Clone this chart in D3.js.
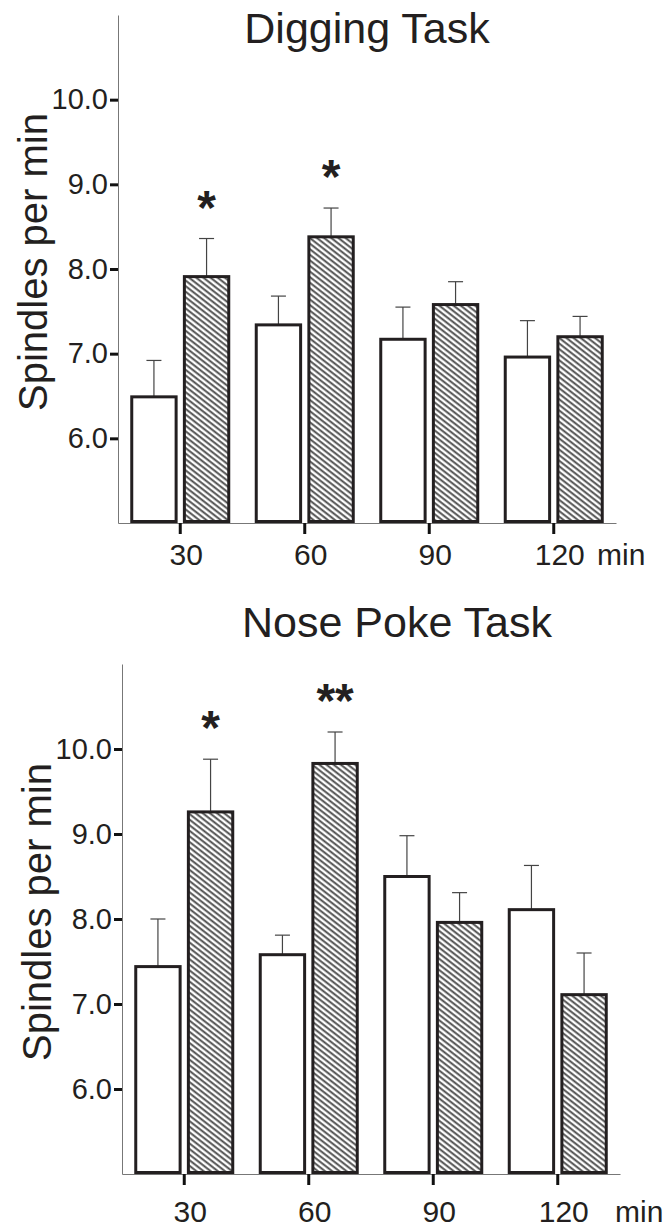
<!DOCTYPE html>
<html>
<head>
<meta charset="utf-8">
<script src="https://cdn.jsdelivr.net/npm/d3@7"></script>
<style>
body { margin: 0; background: #fff; }
text { font-family: "Liberation Sans", Arial, sans-serif; fill: #231f20; }
</style>
</head>
<body>
<script>
var times = ["30", "60", "90", "120"]
var yTicks = [6, 7, 8, 9, 10]

// digging task
var digControl = [6.49, 7.34, 7.17, 6.96]
var digControlErr = [0.43, 0.34, 0.38, 0.43]
var digTask = [7.91, 8.38, 7.58, 7.20]
var digTaskErr = [0.45, 0.34, 0.27, 0.24]
var digStars = ["*", "*", "", ""]

// nose poke task
var noseControl = [7.44, 7.58, 8.50, 8.11]
var noseControlErr = [0.56, 0.23, 0.48, 0.52]
var noseTask = [9.26, 9.83, 7.96, 7.11]
var noseTaskErr = [0.62, 0.37, 0.35, 0.49]
var noseStars = ["*", "**", "", ""]

var svg = d3.select("body").append("svg")
	.attr("width", 671)
	.attr("height", 1227)

var pat = svg.append("defs").append("pattern")
	.attr("id", "hatch")
	.attr("patternUnits", "userSpaceOnUse")
	.attr("width", 8)
	.attr("height", 4.4)
	.attr("patternTransform", "rotate(38)")
pat.append("rect").attr("width", 8).attr("height", 4.4).attr("fill", "#fff")
pat.append("line")
	.attr("x1", 0).attr("x2", 8)
	.attr("y1", 1.2).attr("y2", 1.2)
	.attr("stroke", "#4a4a4a")
	.attr("stroke-width", 1.9)

function drawPanel(p) {
	var g = svg.append("g")

	var x = d3.scaleBand().domain(times).range([p.left, p.right])
	var sub = d3.scaleBand().domain(["control", "task"]).range([-50, 50]).paddingInner(0.1)
	var y = d3.scaleLinear().domain([5, 11]).range([p.bottom, p.top])

	var rows = []
	times.forEach(function(t, i) {
		rows.push({t: t, grp: "control", v: p.control[i], e: p.controlErr[i], star: ""})
		rows.push({t: t, grp: "task", v: p.task[i], e: p.taskErr[i], star: p.stars[i]})
	})

	// y axis
	var ya = g.append("g")
		.attr("transform", "translate(" + p.left + ",0)")
		.call(d3.axisLeft(y).tickValues(yTicks).tickFormat(d3.format(".1f")).tickSize(8).tickSizeOuter(0).tickPadding(2))
	ya.select(".domain").attr("stroke", "#777").attr("stroke-width", 1)
	ya.selectAll(".tick line").attr("stroke", "#111").attr("stroke-width", 3)
	ya.selectAll(".tick text").attr("font-size", 29).attr("font-family", null).attr("fill", null)

	// x axis
	var xa = g.append("g")
		.attr("transform", "translate(0," + p.bottom + ")")
		.call(d3.axisBottom(x).tickSize(11).tickSizeOuter(0).tickPadding(p.labelPad))
	xa.select(".domain").attr("stroke", "#777").attr("stroke-width", 1)
	xa.selectAll(".tick line").attr("stroke", "#111").attr("stroke-width", 3)
	xa.selectAll(".tick text").attr("font-size", 30).attr("font-family", null).attr("fill", null).attr("dx", 6)

	g.append("text")
		.attr("x", p.minX)
		.attr("y", p.bottom + 11 + p.labelPad)
		.attr("dy", "0.71em")
		.attr("font-size", 30)
		.text("min")

	// error bars
	var eb = g.selectAll(".err").data(rows).enter().append("g")
		.attr("class", "err")
		.attr("transform", function(d) {return "translate(" + (x(d.t) + x.bandwidth() / 2 + sub(d.grp) + sub.bandwidth() / 2) + ",0)"})
	eb.append("line")
		.attr("y1", function(d) {return y(d.v)})
		.attr("y2", function(d) {return y(d.v + d.e)})
		.attr("stroke", "#444")
		.attr("stroke-width", 1.2)
	eb.append("line")
		.attr("x1", -7.5).attr("x2", 7.5)
		.attr("y1", function(d) {return y(d.v + d.e)})
		.attr("y2", function(d) {return y(d.v + d.e)})
		.attr("stroke", "#444")
		.attr("stroke-width", 1.2)

	// bars
	g.selectAll(".bar").data(rows).enter().append("rect")
		.attr("class", "bar")
		.attr("x", function(d) {return x(d.t) + x.bandwidth() / 2 + sub(d.grp) + 1.5})
		.attr("width", sub.bandwidth() - 3)
		.attr("y", function(d) {return y(d.v)})
		.attr("height", function(d) {return y(5) - y(d.v) - 1.5})
		.attr("fill", function(d) {return d.grp == "task" ? "url(#hatch)" : "#fff"})
		.attr("stroke", "#231f20")
		.attr("stroke-width", 3)

	// significance stars
	g.selectAll(".star").data(rows.filter(function(d) {return d.star})).enter().append("text")
		.attr("class", "star")
		.attr("x", function(d) {return x(d.t) + x.bandwidth() / 2 + sub(d.grp) + sub.bandwidth() / 2})
		.attr("y", function(d) {return y(d.v + d.e) - 15})
		.attr("text-anchor", "middle")
		.attr("font-size", 48)
		.attr("font-weight", "bold")
		.text(function(d) {return d.star})

	g.append("text")
		.attr("x", p.titleX)
		.attr("y", p.titleY)
		.attr("text-anchor", "middle")
		.attr("font-size", 43)
		.text(p.title)

	g.append("text")
		.attr("transform", "translate(" + (p.left - 71) + "," + ((p.top + p.bottom) / 2 - 7) + ") rotate(-90)")
		.attr("text-anchor", "middle")
		.attr("font-size", 40)
		.text("Spindles per min")
}

drawPanel({
	title: "Digging Task", titleX: 367, titleY: 43,
	left: 118, right: 616, top: 15, bottom: 523,
	labelPad: 10, minX: 597,
	control: digControl, controlErr: digControlErr,
	task: digTask, taskErr: digTaskErr, stars: digStars
})

drawPanel({
	title: "Nose Poke Task", titleX: 397, titleY: 637,
	left: 122, right: 620, top: 664, bottom: 1174,
	labelPad: 16, minX: 615,
	control: noseControl, controlErr: noseControlErr,
	task: noseTask, taskErr: noseTaskErr, stars: noseStars
})
</script>
</body>
</html>
